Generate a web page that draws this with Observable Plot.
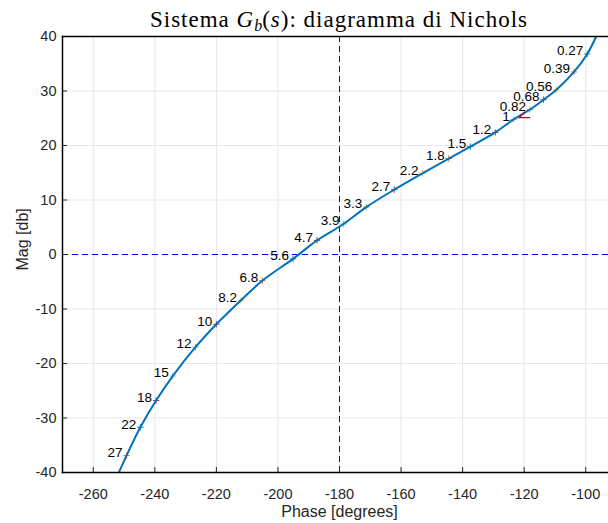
<!DOCTYPE html>
<html><head><meta charset="utf-8">
<script src="https://cdn.jsdelivr.net/npm/d3@7"></script>
<script src="https://cdn.jsdelivr.net/npm/@observablehq/plot@0.6"></script>
<style>
body{margin:0;background:#fff;overflow:hidden}
#wrap{position:relative;width:608px;height:523px}
#title{position:absolute;left:89px;width:500px;top:7px;text-align:center;font-family:"Liberation Serif","Times New Roman",serif;font-size:23px;letter-spacing:1px;color:#000;white-space:nowrap;line-height:26px}
#title sub{font-size:16px;vertical-align:-4px;line-height:0;letter-spacing:0}
</style></head>
<body><div id="wrap"><div id="title">Sistema <i>G</i><sub><i>b</i></sub>(<i>s</i>): diagramma di Nichols</div></div>
<script>
// frequency labels (rad/s)
const freqLabels = ["0.27","0.39","0.56","0.68","0.82","1","1.2","1.5","1.8","2.2","2.7","3.3","3.9","4.7","5.6","6.8","8.2","10","12","15","18","22","27"];
// phase [deg] at each labelled frequency
const markerPhase = [-99.5,-103.8,-109.6,-113.7,-118.1,-123.4,-129.4,-137.5,-144.5,-153.0,-162.2,-171.3,-178.7,-187.3,-195.1,-205.1,-212.0,-220.0,-226.8,-234.2,-239.6,-244.7,-249.2];
// magnitude [dB] at each labelled frequency
const markerMag = [36.8,33.5,30.2,28.4,26.6,24.8,22.4,19.8,17.6,14.9,11.9,8.7,5.6,2.6,-0.8,-4.8,-8.4,-12.8,-17.0,-22.3,-26.8,-31.7,-36.9];
// curve end points (where it leaves the frame)
const curveStartPhase = -96.6, curveStartMag = 40;
const curveEndPhase = -251.7, curveEndMag = -40;
// arrow point (direction marker)
const arrowPhase = -121.6, arrowMag = 25.1;
// ticks
const xTicks = [-260,-240,-220,-200,-180,-160,-140,-120,-100];
const yTicks = [-40,-30,-20,-10,0,10,20,30,40];
const colorOrder = ["#0072BD","#D95319","#EDB120","#7E2F8E","#77AC30","#4DBEEE","#A2142F"];

const markers = freqLabels.map((f, i) => ({f, phase: markerPhase[i], mag: markerMag[i], c: colorOrder[i % 7]}));
const curve = [{phase: curveStartPhase, mag: curveStartMag}, ...markers.map(d => ({phase: d.phase, mag: d.mag})), {phase: curveEndPhase, mag: curveEndMag}];

const arrowSymbol = {draw(ctx) { ctx.moveTo(5.5, -6); ctx.lineTo(0, 0); ctx.lineTo(11, 0); }};

const chart = Plot.plot({
  width: 608, height: 523,
  marginLeft: 62, marginRight: 0, marginTop: 36, marginBottom: 51,
  style: {fontFamily: "'Liberation Sans', Arial, sans-serif", fontSize: "14.5px", color: "#262626", background: "transparent", overflow: "visible"},
  x: {domain: [-270, -92.6]},
  y: {domain: [-40, 40]},
  marks: [
    Plot.gridX(xTicks, {stroke: "#e6e6e6", strokeOpacity: 1}),
    Plot.gridY(yTicks, {stroke: "#e6e6e6", strokeOpacity: 1}),
    Plot.ruleX([-180], {stroke: "#0000ff", strokeDasharray: "6,4", strokeWidth: 1}),
    Plot.ruleY([0], {stroke: "#0000ff", strokeDasharray: "6,4", strokeWidth: 1}),
    Plot.dot(markers, {x: "phase", y: "mag", symbol: "plus", r: 2.2, stroke: "c", strokeWidth: 0.9}),
    Plot.line(curve, {x: "phase", y: "mag", curve: "catmull-rom", stroke: "#0072BD", strokeWidth: 2, clip: true}),
    Plot.dot([{phase: arrowPhase, mag: arrowMag}], {x: "phase", y: "mag", symbol: arrowSymbol, r: 3, stroke: "#A2142F", fill: "none", strokeWidth: 1.3}),
    Plot.text(markers, {x: "phase", y: "mag", text: "f", textAnchor: "end", dx: -4, dy: -3, fontSize: 13.5, fill: "#000"}),
    Plot.axisX(xTicks, {tickSize: 0, tickPadding: 16, tickFormat: d => String(d), label: null, fill: "#262626"}),
    Plot.axisX(xTicks, {tickSize: -5, tickFormat: () => "", label: null, stroke: "#262626"}),
    Plot.axisY(yTicks, {tickSize: 0, tickPadding: 6, tickFormat: d => String(d), label: null, fill: "#262626"}),
    Plot.axisY(yTicks, {tickSize: -5, tickFormat: () => "", label: null, stroke: "#262626"}),
    Plot.frame({anchor: "left", stroke: "#000", strokeWidth: 1.5}),
    Plot.frame({anchor: "bottom", stroke: "#000", strokeWidth: 1.5}),
    Plot.frame({anchor: "top", stroke: "#000", strokeWidth: 1.5}),
    Plot.text(["Phase [degrees]"], {frameAnchor: "bottom", text: d => d, dx: 4, dy: 39, fontSize: 16, fill: "#262626", lineAnchor: "middle"}),
    Plot.text(["Mag [db]"], {frameAnchor: "left", text: d => d, rotate: -90, dx: -40, dy: 16, fontSize: 16, fill: "#262626", lineAnchor: "middle"})
  ]
});
document.getElementById("wrap").prepend(chart);
chart.style.position = "absolute"; chart.style.left = "0"; chart.style.top = "0";
</script>
</body></html>
